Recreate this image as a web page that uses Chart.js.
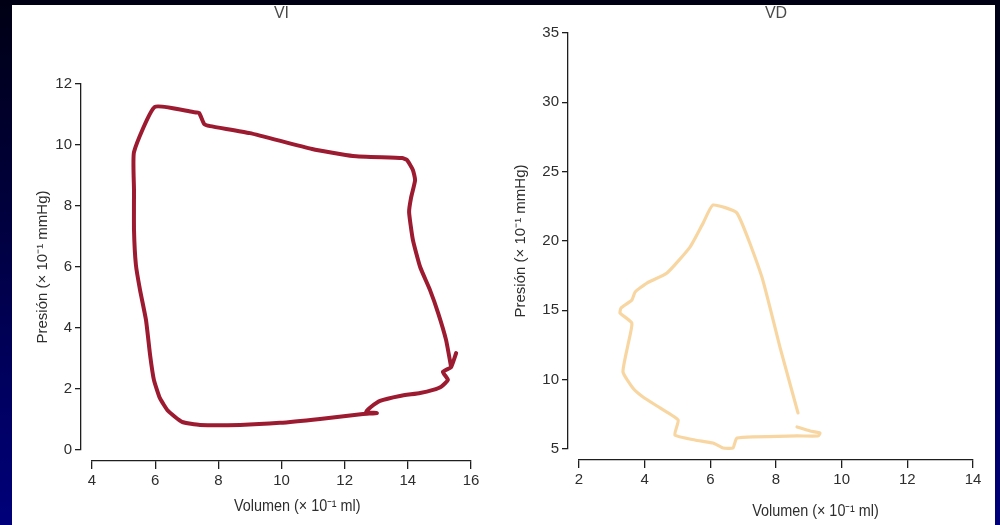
<!DOCTYPE html>
<html>
<head>
<meta charset="utf-8">
<script src="https://cdn.jsdelivr.net/npm/chart.js@4.4.1/dist/chart.umd.min.js"></script>
<style>
  html, body { margin: 0; padding: 0; }
  body {
    width: 1000px; height: 525px; overflow: hidden; position: relative;
    background: linear-gradient(to bottom, #000014 0%, #000038 35%, #00007a 100%);
  }
  #panel { position: absolute; left: 12px; top: 5px; width: 983px; height: 520px; background: #ffffff; }
  .plot { position: absolute; top: 0; width: 500px; height: 525px; }
</style>
</head>
<body>
<div id="panel"></div>
<div class="plot" style="left:0"><canvas id="vi" width="500" height="525"></canvas></div>
<div class="plot" style="left:500px"><canvas id="vd" width="500" height="525"></canvas></div>
<script>
// Left ventricle (VI) pressure–volume loop, traced as one continuous path
const viVolume = [15.53, 15.37, 15.11, 15.27, 15.05, 14.80, 14.39, 13.75, 13.12, 12.83, 12.68, 13.02, 12.58,
  11.22, 9.95, 8.69, 7.42, 6.85, 6.41, 6.15, 5.96, 5.84, 5.71, 5.52, 5.39, 5.33, 5.33, 5.33,
  5.99, 7.20, 7.39, 7.55, 7.74, 9.00, 10.97, 12.26, 13.82, 13.97, 14.16, 14.23, 14.10, 14.04,
  14.16, 14.39, 14.70, 14.96, 15.21, 15.37];
const viPressure = [3.18, 2.72, 2.56, 2.30, 2.07, 1.97, 1.87, 1.77, 1.61, 1.41, 1.25, 1.21, 1.18,
  1.02, 0.89, 0.82, 0.82, 0.92, 1.28, 1.70, 2.30, 3.11, 4.26, 5.25, 6.07, 7.21, 8.52, 9.77,
  11.25, 11.08, 11.05, 10.69, 10.62, 10.39, 9.87, 9.64, 9.57, 9.51, 9.18, 8.85, 8.26, 7.80,
  6.89, 6.00, 5.25, 4.49, 3.61, 2.72];

// Right ventricle (VD) pressure–volume loop
const vdVolume = [8.67, 8.12, 7.57, 6.81, 6.08, 5.78, 5.38, 4.68, 4.07, 3.71, 3.61, 3.28, 3.25, 3.61,
  3.49, 3.34, 3.64, 3.95, 4.47, 5.02, 4.92, 5.53, 6.08, 6.39, 6.69, 6.81, 8.64, 9.28, 9.34, 9.04, 8.64];
const vdPressure = [7.60, 12.35, 17.40, 22.02, 22.59, 21.29, 19.56, 17.69, 16.97, 16.32, 15.74, 15.17, 14.81, 14.08,
  12.50, 10.55, 9.40, 8.75, 7.96, 7.09, 6.01, 5.65, 5.43, 5.07, 5.07, 5.79, 5.94, 5.94, 6.15, 6.30, 6.59];

// Axis ticks
const viVolumeTicks = [4, 6, 8, 10, 12, 14, 16];
const viPressureTicks = [0, 2, 4, 6, 8, 10, 12];
const vdVolumeTicks = [2, 4, 6, 8, 10, 12, 14];
const vdPressureTicks = [5, 10, 15, 20, 25, 30, 35];

const volumeLabel = 'Volumen (× 10⁻¹ ml)';
const pressureLabel = 'Presión (× 10⁻¹ mmHg)';

const FONT = "'Liberation Sans Narrow', 'Liberation Sans', Arial, sans-serif";
const INK = '#2e2e2e';
Chart.defaults.font.family = FONT;
Chart.defaults.color = INK;

// Pull the y axis left and the x axis down so the spines sit apart from the plot
const offsetSpines = {
  id: 'offsetSpines',
  afterLayout(chart, args, opts) {
    const { x, y } = chart.scales;
    y.left -= opts.gap; y.right -= opts.gap;
    x.top += opts.gap; x.bottom += opts.gap;
  }
};

// Slightly condensed caption under the x axis, centred at a chosen volume value
const axisCaption = {
  id: 'axisCaption',
  afterDraw(chart, args, opts) {
    const s = chart.scales.x, ctx = chart.ctx;
    ctx.save();
    ctx.translate(s.getPixelForValue(opts.at), s.top + opts.dy);
    ctx.scale(opts.squeeze, 1);
    ctx.font = `${opts.size}px ${FONT}`;
    ctx.fillStyle = INK;
    ctx.textAlign = 'center';
    ctx.textBaseline = 'middle';
    ctx.fillText(opts.text, 0, 0);
    ctx.restore();
  }
};

function zip(xs, ys) { return xs.map((v, i) => ({ x: v, y: ys[i] })); }

function loopChart(id, cfg) {
  const axisLine = { display: true, color: '#1e1e1e', width: 1.3 };
  const tickGrid = { display: true, drawOnChartArea: false, drawTicks: true, color: '#1e1e1e', lineWidth: 1.3 };
  return new Chart(document.getElementById(id), {
    type: 'scatter',
    data: {
      datasets: [{
        data: zip(cfg.vol, cfg.pres),
        showLine: true,
        borderColor: cfg.color,
        borderWidth: cfg.width,
        borderJoinStyle: 'round',
        borderCapStyle: 'round',
        pointRadius: 0,
        pointHoverRadius: 0,
        tension: 0.15,
        clip: false
      }]
    },
    options: {
      responsive: false,
      animation: false,
      events: [],
      layout: { padding: { left: 0, right: cfg.padRight, top: 0, bottom: 0 } },
      plugins: {
        legend: { display: false },
        tooltip: { enabled: false },
        offsetSpines: { gap: cfg.gap },
        axisCaption: { text: volumeLabel, at: cfg.captionAt, dy: cfg.captionDy, size: 16, squeeze: 0.9 }
      },
      scales: {
        x: {
          type: 'linear', position: 'bottom',
          min: cfg.xTicks[0], max: cfg.xTicks[cfg.xTicks.length - 1],
          afterBuildTicks: s => { s.ticks = cfg.xTicks.map(v => ({ value: v })); },
          afterFit: s => { s.height = cfg.bottomH; },
          grid: { ...tickGrid, tickLength: 8 },
          border: axisLine,
          ticks: { font: { size: 15 }, color: INK, padding: 3, maxRotation: 0 }
        },
        xTitle: {
          type: 'linear', position: 'top',
          min: cfg.xTicks[0], max: cfg.xTicks[cfg.xTicks.length - 1],
          afterFit: s => { s.height = cfg.topH; },
          grid: { display: false }, border: { display: false },
          ticks: { display: false },
          title: { display: true, text: cfg.title, color: '#4a4a4a', font: { size: 16 }, padding: { top: 4, bottom: 0 } }
        },
        y: {
          type: 'linear', position: 'left',
          min: cfg.yTicks[0], max: cfg.yTicks[cfg.yTicks.length - 1],
          afterBuildTicks: s => { s.ticks = cfg.yTicks.map(v => ({ value: v })); },
          afterFit: s => { s.width = cfg.leftW; },
          grid: { ...tickGrid, tickLength: 6 },
          border: axisLine,
          ticks: { font: { size: 15 }, color: INK, padding: 3 },
          title: { display: true, text: pressureLabel, color: INK, font: { size: 15 }, padding: { top: cfg.yTitlePad, bottom: 0 } }
        }
      }
    },
    plugins: [offsetSpines, axisCaption]
  });
}

loopChart('vi', {
  vol: viVolume, pres: viPressure, color: '#9c1b30', width: 4,
  xTicks: viVolumeTicks, yTicks: viPressureTicks, title: 'VI',
  leftW: 92, padRight: 29, topH: 84, bottomH: 75, gap: 11,
  yTitlePad: 45, captionAt: 10.5, captionDy: 46
});

loopChart('vd', {
  vol: vdVolume, pres: vdPressure, color: '#f8d6a2', width: 3.2,
  xTicks: vdVolumeTicks, yTicks: vdPressureTicks, title: 'VD',
  leftW: 79, padRight: 27, topH: 33, bottomH: 76, gap: 11,
  yTitlePad: 23, captionAt: 9.2, captionDy: 52
});
</script>
</body>
</html>
